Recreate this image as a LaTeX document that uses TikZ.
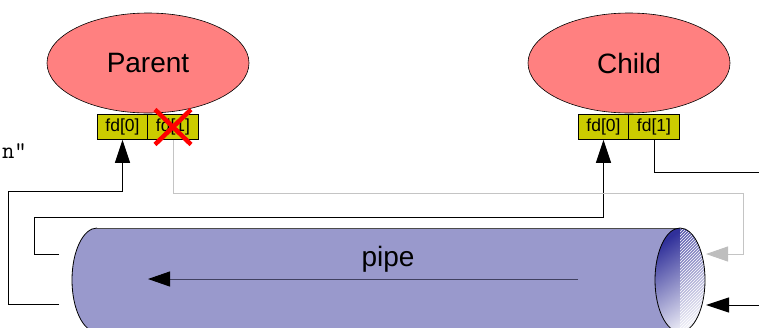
\documentclass[tikz,border=0pt]{standalone}
\usepackage{fontspec}
\setmainfont{Liberation Sans}
\usetikzlibrary{arrows.meta,shapes.geometric,patterns,calc}
\definecolor{procfill}{HTML}{FF8080}
\definecolor{fdfill}{HTML}{CCCC00}
\definecolor{pipefill}{HTML}{9999CC}
\definecolor{graywirecol}{HTML}{C4C4C4}
\definecolor{grayheadcol}{HTML}{BEBEBE}
\definecolor{pipearrowcol}{HTML}{404060}
\definecolor{capdark}{HTML}{30309A}
\definecolor{caplight}{HTML}{ECECF6}
\begin{document}
\begin{tikzpicture}[x=1pt,y=-1pt,
  proc/.style={ellipse, draw=black, line width=0.6pt, fill=procfill,
    minimum width=202pt, minimum height=100pt, inner sep=0pt,
    font=\fontsize{28}{30}\selectfont},
  fdbox/.style={rectangle, draw=black, line width=0.6pt, fill=fdfill,
    minimum width=50.5pt, minimum height=25pt, inner sep=0pt,
    font=\fontsize{17.5}{19}\selectfont},
  wire/.style={line width=1pt, draw=black},
  grayline/.style={line width=1pt, draw=graywirecol},
  headtip/.style={-{Triangle[length=23pt,width=15pt]}},
  grayheadtip/.style={-{Triangle[length=22pt,width=15pt,color=grayheadcol]}},
  redx/.style={line width=4.5pt, draw=red},
]
\useasboundingbox (0,0) rectangle (759,327);

% pipe body
\fill[pipefill] (97,228) rectangle (680,332);
\fill[pipefill] (97,280) ellipse [x radius=25, y radius=52];
\draw[line width=0.8pt, draw=black!70] (97,228) -- (680,228);
\draw[line width=0.8pt, draw=black] (97,228) arc[start angle=270, end angle=90, x radius=25, y radius=52];

% right cap
\shade[top color=capdark, bottom color=caplight, middle color=pipefill!90!capdark, shading angle=35]
  (680,280) ellipse [x radius=25, y radius=52];
\begin{scope}
  \clip (680,280) ellipse [x radius=25, y radius=52];
  \fill[white, opacity=0.18] (680,220) rectangle (710,340);
  \fill[pattern=north east lines, pattern color=white, fill opacity=0.45] (680,220) rectangle (710,340);
\end{scope}
\draw[line width=0.8pt, draw=black] (680,280) ellipse [x radius=25, y radius=52];

% pipe label and inner arrow
\node[anchor=base, inner sep=0pt, font=\fontsize{28}{30}\selectfont] (pipelabel) at (388,266) {pipe};
\coordinate (pipeA) at (578,279);
\coordinate (pipeB) at (148,279);
\draw[line width=1pt, draw=pipearrowcol, -{Triangle[length=22pt,width=15pt,color=black]}] (pipeA) -- (pipeB);

% processes
\node[proc] (parent) at (148,63) {\raisebox{-2pt}{Parent}};
\node[proc] (child) at (629,63) {\raisebox{-2pt}{Child}};

% connectors
\coordinate (pL1) at (59,304);
\coordinate (pL2) at (59,254);
\coordinate (pR1) at (706,254);
\coordinate (pR2) at (706,305);
\coordinate (eR1) at (759,172);
\coordinate (eR2) at (759,305);

\node[fdbox] (pf0) at (122.5,127) {fd[0]};
\node[fdbox] (pf1) at (173,127) {fd[1]};
\node[fdbox] (cf0) at (603.5,127) {fd[0]};
\node[fdbox] (cf1) at (654,127) {fd[1]};

\draw[wire, headtip] (pL1) -- (8,304) -- (8,191) -| (pf0.south);
\draw[wire, headtip] (pL2) -- (34,254) -- (34,217) -| (cf0.south);
\draw[grayline, grayheadtip] (pf1.south) |- (743,193) |- (pR1);
\draw[wire] (cf1.south) |- (eR1);
\draw[wire, headtip] (eR2) -- (pR2);

% closed end
\draw[redx] ($(pf1)+(-18,-17.5)$) -- ($(pf1)+(18,17.5)$);
\draw[redx] ($(pf1)+(18,-17.5)$) -- ($(pf1)+(-18,17.5)$);

% cut-off text at left
\node[anchor=base east, inner sep=0pt, font=\ttfamily\fontsize{24}{26}\selectfont] (strtail) at (27,158) {n"};
\end{tikzpicture}
\end{document}
